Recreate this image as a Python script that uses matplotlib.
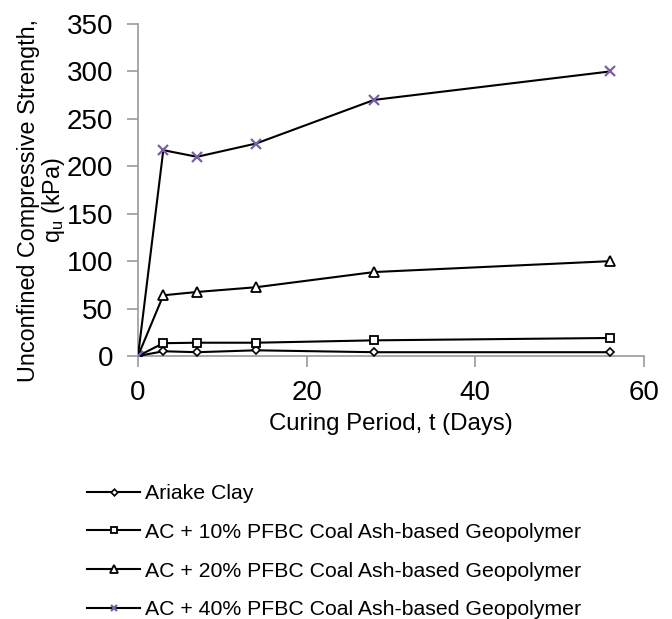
import matplotlib
matplotlib.use("Agg")
import matplotlib.pyplot as plt

plt.rcParams['font.family'] = ['Liberation Sans', 'DejaVu Sans']

days = [0, 3, 7, 14, 28, 56]
ariake = [0, 5, 4, 6, 4, 4]
ac10 = [0, 13.5, 14, 14, 16.5, 19]
ac20 = [0, 64, 67.5, 72.5, 88.5, 100]
ac40 = [0, 217, 210, 224, 270, 300]

labels = ["Ariake Clay",
          "AC + 10% PFBC Coal Ash-based Geopolymer",
          "AC + 20% PFBC Coal Ash-based Geopolymer",
          "AC + 40% PFBC Coal Ash-based Geopolymer"]

xticks = [0, 20, 40, 60]
yticks = [0, 50, 100, 150, 200, 250, 300, 350]

fig = plt.figure(figsize=(6.72, 6.19), dpi=100)
ax = fig.add_axes([138/672, 1-356/619, (644-138)/672, (356-24)/619])

purple = '#7B5FA3'
ax.plot(days, ariake, color='black', lw=1.5, marker='D', ms=4.5,
        mfc='white', mec='black', mew=1.2, label=labels[0], zorder=3)
ax.plot(days, ac10, color='black', lw=1.5, marker='s', ms=6.3,
        mfc='white', mec='black', mew=1.3, label=labels[1], zorder=3)
ax.plot(days, ac20, color='black', lw=1.5, marker='^', ms=7.5,
        mfc='white', mec='black', mew=1.3, label=labels[2], zorder=3)
ax.plot(days, ac40, color='black', lw=1.5, marker='x', ms=6.5,
        mec=purple, mew=1.6, label=labels[3], zorder=4)

ax.set_xlim(0, 60)
ax.set_ylim(0, 350)
ax.set_xticks(xticks)
ax.set_yticks(yticks)
ax.tick_params(axis='both', direction='out', length=8, width=1.2,
               color='#999999', labelsize=20)
ax.tick_params(axis='y', pad=10)
ax.tick_params(axis='x', pad=9)
for s in ['top', 'right']:
    ax.spines[s].set_visible(False)
for s in ['left', 'bottom']:
    ax.spines[s].set_color('#999999')
    ax.spines[s].set_linewidth(1.2)

ax.set_xlabel("Curing Period, t (Days)", fontsize=17.3)
ax.set_ylabel("Unconfined Compressive Strength,\nq$_\\mathregular{u}$ (kPa)",
              fontsize=16.8, linespacing=1.0)
ax.xaxis.set_label_coords(0.5, (356-413)/332)
ax.yaxis.set_label_coords((67-138)/506, (356-200)/332)

fig.legend(loc='upper left', bbox_to_anchor=(87/672, 1-484/619),
           frameon=False, fontsize=15.35, handlelength=2.49, handletextpad=0.23,
           labelspacing=0.93, borderpad=0, borderaxespad=0, markerscale=0.75)

fig.savefig("out.png", dpi=100)
